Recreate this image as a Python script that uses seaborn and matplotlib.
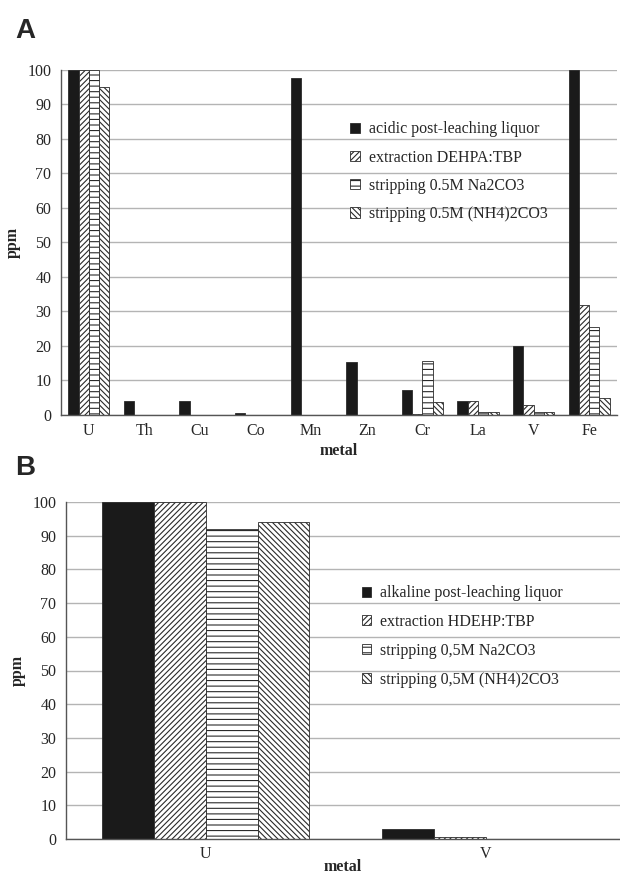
import matplotlib
matplotlib.use("Agg")
import matplotlib.pyplot as plt
from matplotlib.patches import Patch
import numpy as np
import pandas as pd
import seaborn as sns

# Panel A data
metals_a = ["U", "Th", "Cu", "Co", "Mn", "Zn", "Cr", "La", "V", "Fe"]
series_a = ["acidic post-leaching liquor", "extraction DEHPA:TBP",
            "stripping 0.5M Na2CO3", "stripping 0.5M (NH4)2CO3"]
acidic_a = [100, 4, 4, 0.7, 97.6, 15.4, 7.2, 4.1, 20, 100]
dehpa_a = [100, 0, 0, 0, 0, 0, 0.2, 4.1, 3, 31.9]
na2co3_a = [100, 0, 0, 0, 0, 0, 15.6, 1, 1, 25.5]
nh4_a = [95, 0, 0, 0, 0, 0, 3.8, 1, 1, 5]

# Panel B data
metals_b = ["U", "V"]
series_b = ["alkaline post-leaching liquor", "extraction HDEHP:TBP",
            "stripping 0,5M Na2CO3", "stripping 0,5M (NH4)2CO3"]
alkaline_b = [100, 2.9]
hdehp_b = [100, 0.7]
na2co3_b = [92, 0]
nh4_b = [94, 0]

yticks = list(range(0, 101, 10))

sns.set_style("white")
plt.rcParams["font.family"] = ["Liberation Serif", "DejaVu Serif"]
plt.rcParams["hatch.linewidth"] = 0.8

# style of each series: facecolor, hatch
styles = [("#1a1a1a", ""), ("white", "//////"), ("white", "---"), ("white", "\\\\\\\\\\\\")]
FS = 11.5


def long_table(metals, series, values):
    rows = []
    for s, vals in zip(series, values):
        for m, v in zip(metals, vals):
            rows.append({"metal": m, "series": s, "ppm": v})
    return pd.DataFrame(rows)


def draw_panel(ax, metals, series, values, legend_anchor, xpad, tpad, lspace):
    df = long_table(metals, series, values)
    sns.barplot(data=df, x="metal", y="ppm", hue="series", order=metals,
                hue_order=series, width=0.74, ax=ax, legend=False,
                palette=["#1a1a1a"] * 4, saturation=1)
    for cont, (fc, hatch) in zip(ax.containers, styles):
        for bar in cont:
            bar.set_facecolor(fc)
            bar.set_hatch(hatch)
            bar.set_edgecolor("#2a2a2a")
            bar.set_linewidth(0.6)
    ax.set_ylim(0, 100)
    ax.set_xlim(-0.5, len(metals) - 0.5)
    ax.set_yticks(yticks)
    ax.yaxis.grid(True, color="#b4b4b4", linewidth=1.0)
    ax.set_axisbelow(True)
    for side in ["top", "right"]:
        ax.spines[side].set_visible(False)
    for side in ["left", "bottom"]:
        ax.spines[side].set_color("#555555")
        ax.spines[side].set_linewidth(1.0)
    ax.set_xticks(np.arange(len(metals)))
    ax.set_xticks(np.arange(len(metals) + 1) - 0.5, minor=True)
    ax.tick_params(axis="x", which="major", length=0, labelsize=FS, pad=tpad)
    ax.tick_params(axis="x", which="minor", length=5, color="#555555", direction="out")
    ax.tick_params(axis="y", length=4, color="#555555", direction="out", labelsize=FS, pad=3)
    ax.set_xlabel("metal", fontsize=FS, fontweight="bold", labelpad=xpad)
    ax.set_ylabel("ppm", fontsize=FS, fontweight="bold", labelpad=5)
    handles = [Patch(facecolor=fc, edgecolor="#2a2a2a", hatch=h, linewidth=0.6, label=s)
               for (fc, h), s in zip(styles, series)]
    ax.legend(handles=handles, loc="upper left", bbox_to_anchor=legend_anchor,
              frameon=False, fontsize=FS, handlelength=0.6, handleheight=0.6,
              handletextpad=0.55, labelspacing=lspace, borderaxespad=0)


fig = plt.figure(figsize=(6.2, 8.76), dpi=100)
ax_a = fig.add_axes([61 / 620, 1 - 415 / 876, 556 / 620, 345 / 876])
ax_b = fig.add_axes([66 / 620, 1 - 839 / 876, 554 / 620, 337 / 876])

draw_panel(ax_a, metals_a, series_a, [acidic_a, dehpa_a, na2co3_a, nh4_a],
           (0.509, 0.87), 3, 6, 0.77)
draw_panel(ax_b, metals_b, series_b, [alkaline_b, hdehp_b, na2co3_b, nh4_b],
           (0.522, 0.772), -2, 5, 0.8)
ax_b.set_xlim(-0.5, 1.48)

fig.text(15 / 620, 1 - 38 / 876, "A", fontsize=20, fontweight="bold",
         family="Liberation Sans")
fig.text(15 / 620, 1 - 475 / 876, "B", fontsize=20, fontweight="bold",
         family="Liberation Sans")

fig.savefig("out.png", dpi=100)
